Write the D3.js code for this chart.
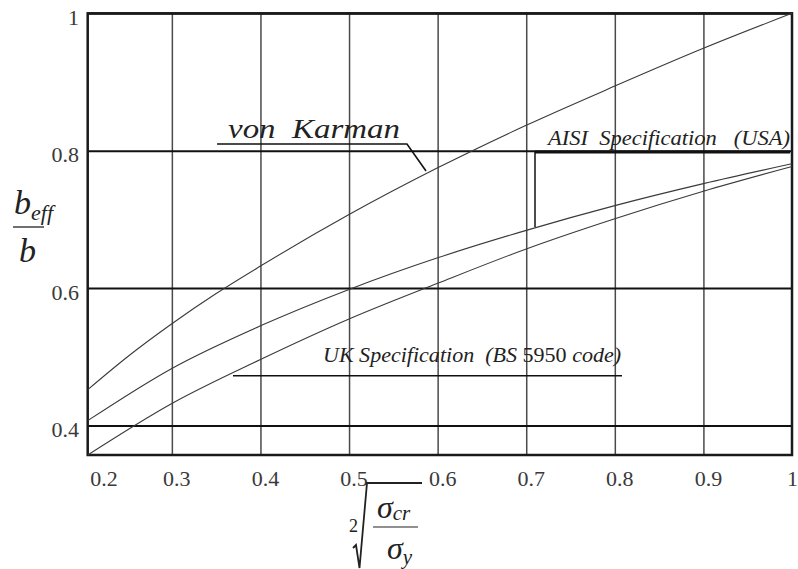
<!DOCTYPE html>
<html>
<head>
<meta charset="utf-8">
<script src="https://cdn.jsdelivr.net/npm/d3@7"></script>
<style>
  html, body { margin: 0; padding: 0; background: #fff; }
  svg { display: block; }
  text { font-family: "Liberation Serif", "DejaVu Serif", serif; }
</style>
</head>
<body>
<svg id="chart" width="798" height="569"></svg>
<script>
// ---- data ----
const xTicks = [0.2, 0.3, 0.4, 0.5, 0.6, 0.7, 0.8, 0.9, 1];
const xTickLabels = ["0.2", "0.3", "0.4", "0.5", "0.6", "0.7", "0.8", "0.9", "1"];
const yTicks = [0.4, 0.6, 0.8, 1];
const yTickLabels = ["0.4", "0.6", "0.8", "1"];

const vonKarmanX = [0.205, 0.25, 0.3, 0.35, 0.4, 0.5, 0.6, 0.7, 0.8, 0.9, 1.0];
const vonKarmanY = [0.452, 0.5, 0.548, 0.592, 0.632, 0.707, 0.775, 0.837, 0.894, 0.949, 1.0];

const aisiX = [0.205, 0.3, 0.4, 0.5, 0.6, 0.7, 0.8, 0.9, 1.0];
const aisiY = [0.407, 0.483, 0.545, 0.598, 0.644, 0.684, 0.720, 0.752, 0.781];

const ukX = [0.205, 0.3, 0.4, 0.5, 0.6, 0.7, 0.8, 0.9, 1.0];
const ukY = [0.357, 0.432, 0.496, 0.555, 0.607, 0.657, 0.701, 0.741, 0.777];

// annotation anchors (data units)
const vkLabel = {text: "von  Karman", x: 0.3634, y: 0.8185, x2: 0.5575};
const vkLeader = [[0.351, 0.8097], [0.5654, 0.8097], [0.5869, 0.7704]];
const aisiLabel = {text: "AISI  Specification   (USA)", x: 0.7246, y: 0.8083, x2: 0.9978};
const aisiLeader = [[0.9978, 0.7981], [0.7099, 0.7981], [0.7099, 0.6889]];
const ukLabelParts = ["UK Specification  (BS ", "5950", " code)"];
const ukLabel = {x: 0.4706, y: 0.4924, x2: 0.8071};
const ukLeader = [[0.369, 0.4724], [0.8081, 0.4724]];

// ---- layout ----
const L = 87.7, R = 792, T = 13.3, B = 455;
const svg = d3.select("#chart");
svg.append("rect").attr("width", 798).attr("height", 569).attr("fill", "#fff");

const x = d3.scaleLinear().domain([0.205, 1]).range([L, R]);
const y = d3.scaleLinear().domain([0.357, 1]).range([B, T]);

// vertical grid + x labels
const xAxis = d3.axisBottom(x).tickValues(xTicks)
  .tickSize(-(B - T)).tickFormat((d, i) => xTickLabels[i]);
const gx = svg.append("g").attr("transform", `translate(0,${B})`).call(xAxis);
gx.attr("font-family", null);
gx.select(".domain").remove();
gx.selectAll(".tick line")
  .attr("stroke", "#4a4a4a").attr("stroke-width", 1.5)
  .attr("opacity", d => (d > 0.21 && d < 0.99) ? 1 : 0);
gx.selectAll(".tick text")
  .attr("y", 31).attr("dy", 0)
  .attr("font-size", 22).attr("fill", "#3a3a3a")
  .attr("text-anchor", d => d < 0.25 ? "start" : (d > 0.99 ? "end" : "middle"))
  .attr("dx", d => d < 0.25 ? 6.5 : (d > 0.99 ? 5.5 : 4.5));

// horizontal grid + y labels
const yAxis = d3.axisLeft(y).tickValues(yTicks)
  .tickSize(-(R - L)).tickPadding(8.7).tickFormat((d, i) => yTickLabels[i]);
const gy = svg.append("g").attr("transform", `translate(${L},0)`).call(yAxis);
gy.attr("font-family", null);
gy.select(".domain").remove();
gy.selectAll(".tick line").attr("stroke", "#111").attr("stroke-width", 2);
gy.selectAll(".tick text")
  .attr("dy", "0.5em").attr("font-size", 22).attr("fill", "#3a3a3a");

// frame
svg.append("rect").attr("x", L).attr("y", T).attr("width", R - L).attr("height", B - T)
  .attr("fill", "none").attr("stroke", "#1a1a1a").attr("stroke-width", 2.5);

// curves
const line = d3.line().x(d => x(d[0])).y(d => y(d[1])).curve(d3.curveMonotoneX);
const series = [
  [vonKarmanX, vonKarmanY],
  [aisiX, aisiY],
  [ukX, ukY]
];
series.forEach(([xs, ys]) => {
  svg.append("path")
    .datum(xs.map((v, i) => [v, ys[i]]))
    .attr("d", line)
    .attr("fill", "none").attr("stroke", "#3a3a3a").attr("stroke-width", 1.1);
});

// annotations
const lin = d3.line().x(d => x(d[0])).y(d => y(d[1]));
svg.append("text")
  .attr("x", x(vkLabel.x)).attr("y", y(vkLabel.y))
  .attr("font-size", 27).attr("font-style", "italic").attr("fill", "#222")
  .attr("textLength", x(vkLabel.x2) - x(vkLabel.x)).attr("lengthAdjust", "spacingAndGlyphs")
  .style("white-space", "pre").text(vkLabel.text);
svg.append("path").attr("d", lin(vkLeader)).attr("fill", "none")
  .attr("stroke", "#111").attr("stroke-width", 1.6);

svg.append("text")
  .attr("x", x(aisiLabel.x)).attr("y", y(aisiLabel.y))
  .attr("font-size", 20).attr("font-style", "italic").attr("fill", "#222")
  .attr("textLength", x(aisiLabel.x2) - x(aisiLabel.x)).attr("lengthAdjust", "spacingAndGlyphs")
  .style("white-space", "pre").text(aisiLabel.text);
svg.append("path").attr("d", lin(aisiLeader.slice(0, 2))).attr("fill", "none")
  .attr("stroke", "#111").attr("stroke-width", 2.8);
svg.append("path").attr("d", lin(aisiLeader.slice(1))).attr("fill", "none")
  .attr("stroke", "#111").attr("stroke-width", 1.5);

const ukT = svg.append("text")
  .attr("x", x(ukLabel.x)).attr("y", y(ukLabel.y))
  .attr("font-size", 21).attr("fill", "#222")
  .attr("textLength", x(ukLabel.x2) - x(ukLabel.x)).attr("lengthAdjust", "spacingAndGlyphs")
  .style("white-space", "pre");
ukT.append("tspan").attr("font-style", "italic").text(ukLabelParts[0]);
ukT.append("tspan").text(ukLabelParts[1]);
ukT.append("tspan").attr("font-style", "italic").text(ukLabelParts[2]);
svg.append("path").attr("d", lin(ukLeader)).attr("fill", "none")
  .attr("stroke", "#111").attr("stroke-width", 1.6);

// y-axis title: b_eff / b
const yt = svg.append("text").attr("x", 14).attr("y", 214)
  .attr("font-size", 34).attr("font-style", "italic").attr("fill", "#222");
yt.append("tspan").text("b");
yt.append("tspan").attr("font-size", 22).attr("dy", 6).text("eff");
svg.append("line").attr("x1", 13).attr("x2", 44).attr("y1", 227).attr("y2", 227)
  .attr("stroke", "#222").attr("stroke-width", 1.3);
svg.append("text").attr("x", 19).attr("y", 262)
  .attr("font-size", 34).attr("font-style", "italic").attr("fill", "#222").text("b");

// x-axis title: square root of sigma_cr / sigma_y
svg.append("text").attr("x", 349).attr("y", 532).attr("font-size", 18).attr("fill", "#222").text("2");
svg.append("path").attr("d", "M353,548 L356,545 L359.5,568 L367,483 L422,483")
  .attr("fill", "none").attr("stroke", "#222").attr("stroke-width", 1.8);
const sc = svg.append("text").attr("x", 377).attr("y", 518)
  .attr("font-size", 32).attr("font-style", "italic").attr("fill", "#222");
sc.append("tspan").text("σ");
sc.append("tspan").attr("font-size", 21).attr("dy", 2).text("cr");
svg.append("line").attr("x1", 373).attr("x2", 418).attr("y1", 527).attr("y2", 527)
  .attr("stroke", "#222").attr("stroke-width", 1.2);
const sy = svg.append("text").attr("x", 387).attr("y", 559)
  .attr("font-size", 32).attr("font-style", "italic").attr("fill", "#222");
sy.append("tspan").text("σ");
sy.append("tspan").attr("font-size", 21).attr("dy", 5).text("y");
</script>
</body>
</html>
